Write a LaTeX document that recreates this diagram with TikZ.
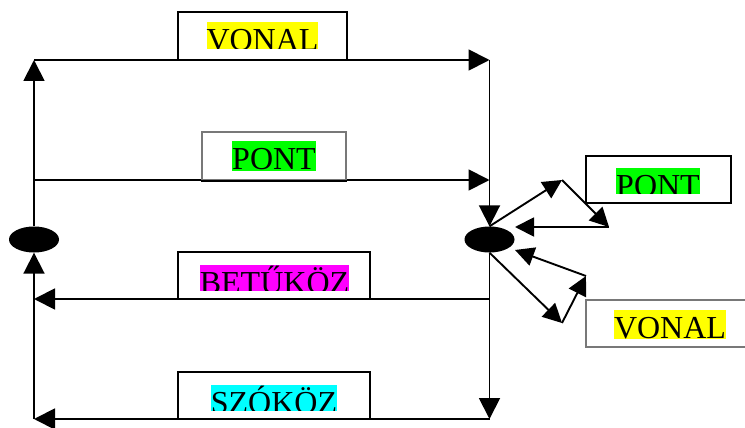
\documentclass[tikz,border=0pt]{standalone}
\usepackage{fontspec}
\setmainfont{Liberation Serif}
\usetikzlibrary{arrows.meta,shapes.geometric}
\definecolor{hlyellow}{RGB}{255,255,0}
\definecolor{hlgreen}{RGB}{0,255,0}
\definecolor{hlmagenta}{RGB}{255,0,255}
\definecolor{hlcyan}{RGB}{0,255,255}
\definecolor{boxgray}{RGB}{120,120,120}
\tikzset{
  wire/.style={line width=1.9pt, -{Triangle[length=21pt,width=21pt]}},
  swire/.style={line width=1.9pt, -{Triangle[length=19pt,width=19pt]}},
  junction/.style={ellipse, fill=black, inner sep=0pt, minimum width=50pt, minimum height=26pt},
  labelbox/.style={rectangle, draw=black, line width=1.8pt, inner sep=0pt},
  graybox/.style={rectangle, draw=boxgray, line width=1.2pt, inner sep=0pt},
  hl/.style={anchor=base, inner sep=0pt, text height=28.5pt, text depth=8pt,
             font=\fontsize{32}{38}\selectfont},
}
% highlighted caption, cut off below the given line
\newcommand\hlabel[6]{%
  \begin{scope}
    \clip (0,0) rectangle (745,#4);
    \node[hl, fill=#5] (#1) at (#2,#3) {#6};
  \end{scope}}
\begin{document}
\begin{tikzpicture}[x=1pt,y=-1pt]
\clip (0,0) rectangle (745,428);
\fill[white] (0,0) rectangle (745,428);

% junctions
\node[junction] (L) at (34,239.5) {};
\node[junction] (R) at (489.5,239.5) {};

% corner and branch points
\coordinate (tl) at (34,60);
\coordinate (tr) at (489.5,60);
\coordinate (ml) at (34,180);
\coordinate (mr) at (489.5,180);
\coordinate (zr) at (489.5,299);
\coordinate (zl) at (34,299);
\coordinate (br) at (489.5,419);
\coordinate (bl) at (34,419);
\coordinate (p1) at (562,180);
\coordinate (p2) at (609,227);
\coordinate (q1) at (515,227);
\coordinate (v1) at (562,323);
\coordinate (v2) at (586,276);
\coordinate (q2) at (515,250);

% main loop
\draw[wire] (L.north) -- (tl);
\draw[wire] (tl) -- (tr);
\draw[wire] (tr) -- (R.north);
\draw[wire] (ml) -- (mr);
\draw[wire] (zr) -- (zl);
\draw[wire] (R.south) -- (br);
\draw[wire] (br) -- (bl);
\draw[wire] (bl) -- (L.south);

% side loops
\draw[swire] (R.north) -- (p1);
\draw[swire] (p1) -- (p2);
\draw[swire] (p2) -- (q1);
\draw[swire] (R.south) -- (v1);
\draw[swire] (v1) -- (v2);
\draw[swire] (v2) -- (q2);

% boxes
\node[labelbox, minimum width=169pt, minimum height=48pt] (bTopVonal) at (262.5,36) {};
\node[graybox, minimum width=144pt, minimum height=48pt] (bMidPont) at (274,156) {};
\draw[line width=1.9pt] (bMidPont.south west) -- (bMidPont.south east);
\node[labelbox, minimum width=192pt, minimum height=47pt] (bBetukoz) at (274,275.5) {};
\node[labelbox, minimum width=192pt, minimum height=47pt] (bSzokoz) at (274,395.5) {};
\node[labelbox, minimum width=145pt, minimum height=47pt] (bRPont) at (658.5,179.5) {};
\node[graybox, minimum width=168pt, minimum height=47pt] (bRVonal) at (670,323.5) {};

% captions
\hlabel{tTopVonal}{262.5}{51}{49}{hlyellow}{VONAL}
\hlabel{tMidPont}{274}{169.5}{170}{hlgreen}{PONT}
\hlabel{tBetukoz}{274.5}{293}{290}{hlmagenta}{BETŰKÖZ}
\hlabel{tSzokoz}{274}{413}{410}{hlcyan}{SZÓKÖZ}
\hlabel{tRPont}{658}{196}{193}{hlgreen}{PONT}
\hlabel{tRVonal}{670}{338}{338}{hlyellow}{VONAL}
\end{tikzpicture}
\end{document}
